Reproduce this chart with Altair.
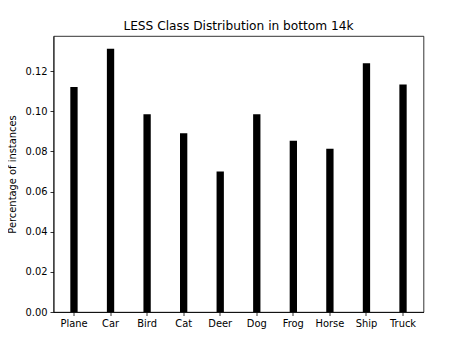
import altair as alt
import pandas as pd

classes = ["Plane", "Car", "Bird", "Cat", "Deer", "Dog", "Frog", "Horse", "Ship", "Truck"]
values = [0.1121, 0.1312, 0.0985, 0.0891, 0.0700, 0.0985, 0.0853, 0.0813, 0.1239, 0.1134]
y_ticks = [0.0, 0.02, 0.04, 0.06, 0.08, 0.10, 0.12]

df = pd.DataFrame({"cls": classes, "val": values})

FONT = "DejaVu Sans"

chart = (
    alt.Chart(df)
    .mark_bar(color="black")
    .encode(
        x=alt.X(
            "cls:N",
            sort=None,
            scale=alt.Scale(paddingInner=0.8, paddingOuter=0.46),
            axis=alt.Axis(
                title=None,
                labelAngle=0,
                labelFont=FONT,
                labelFontSize=9.9,
                labelColor="black",
                labelPadding=3,
                tickSize=3.5,
                tickColor="black",
                tickWidth=0.8,
                domainColor="black",
                domainWidth=0.8,
                grid=False,
            ),
        ),
        y=alt.Y(
            "val:Q",
            scale=alt.Scale(domain=[0, 0.1375], nice=False, zero=True),
            axis=alt.Axis(
                title="Percentage of instances",
                values=y_ticks,
                format=".2f",
                labelFont=FONT,
                labelFontSize=9.9,
                labelColor="black",
                labelPadding=3,
                tickSize=3.5,
                tickColor="black",
                tickWidth=0.8,
                domainColor="black",
                domainWidth=0.8,
                grid=False,
                titleFont=FONT,
                titleFontSize=9.9,
                titleFontWeight="normal",
                titleColor="black",
                titleAngle=-90,
                titleAlign="center",
                titleBaseline="middle",
                titleX=-41,
                titleY=138,
            ),
        ),
    )
    .properties(
        width=370,
        height=276,
        autosize=alt.AutoSizeParams(type="none"),
        padding={"left": 45.5, "top": 28, "right": 15, "bottom": 20},
        title=alt.TitleParams(
            "LESS Class Distribution in bottom 14k",
            font=FONT,
            fontSize=12.2,
            fontWeight="normal",
            color="black",
            offset=4,
        ),
    )
    .configure_view(stroke="black", strokeWidth=0.8)
)

chart.save("out.html", embed_options={"renderer": "svg", "actions": False})
